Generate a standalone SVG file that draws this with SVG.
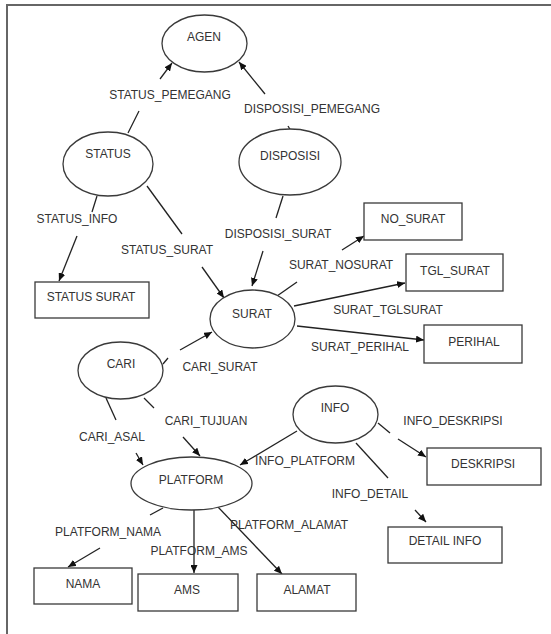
<svg xmlns="http://www.w3.org/2000/svg" width="551" height="634" viewBox="0 0 551 634">
<style>
text{font-family:"Liberation Sans",Arial,sans-serif;font-size:12px;fill:#333;text-anchor:middle}
.node ellipse,.node rect{fill:#fff;stroke:#3a3a3a;stroke-width:1.3}
.conn line{stroke:#222;stroke-width:1.3}
.arr{marker-end:url(#ah)}
.frame{stroke:#666;stroke-width:2;fill:none}
</style>
<defs>
<marker id="ah" markerUnits="userSpaceOnUse" markerWidth="9" markerHeight="7" refX="8" refY="3.5" orient="auto">
<path d="M0,0 L8,3.5 L0,7 z" fill="#111"/>
</marker>
</defs>
<rect width="551" height="634" fill="#fff"/>
<path class="frame" d="M7,634 V5 H551"/>

<g id="connectors" class="conn">
<line x1="128" y1="133" x2="139" y2="111"/>
<line class="arr" x1="160" y1="79" x2="172" y2="63"/>
<line x1="288" y1="126" x2="291" y2="131"/>
<line class="arr" x1="265" y1="94" x2="239" y2="62"/>
<line x1="97" y1="196" x2="92" y2="212"/>
<line class="arr" x1="77" y1="236" x2="59" y2="281"/>
<line x1="147" y1="186" x2="182" y2="234"/>
<line class="arr" x1="202" y1="267" x2="224" y2="298"/>
<line x1="283" y1="196" x2="276" y2="218"/>
<line class="arr" x1="263" y1="251" x2="252" y2="286"/>
<line x1="277" y1="296" x2="297" y2="282"/>
<line class="arr" x1="342" y1="250" x2="364" y2="236"/>
<line class="arr" x1="294" y1="306" x2="405" y2="283"/>
<line class="arr" x1="297" y1="326" x2="424" y2="340"/>
<line x1="163" y1="364" x2="168" y2="358"/>
<line class="arr" x1="180" y1="350" x2="212" y2="332"/>
<line x1="144" y1="398" x2="154" y2="408"/>
<line class="arr" x1="183" y1="437" x2="200" y2="456"/>
<line x1="106" y1="398" x2="116" y2="420"/>
<line class="arr" x1="136" y1="453" x2="143" y2="465"/>
<line class="arr" x1="297" y1="431" x2="240" y2="465"/>
<line x1="378" y1="423" x2="390" y2="433"/>
<line class="arr" x1="398" y1="439" x2="426" y2="457"/>
<line x1="356" y1="443" x2="388" y2="478"/>
<line class="arr" x1="415" y1="510" x2="426" y2="522"/>
<line x1="163" y1="508" x2="150" y2="515"/>
<line class="arr" x1="100" y1="548" x2="68" y2="567"/>
<line class="arr" x1="194" y1="510" x2="194" y2="573"/>
<line class="arr" x1="218" y1="507" x2="282" y2="574"/>
</g>

<g id="labels">
<text x="170" y="99">STATUS_PEMEGANG</text>
<text x="312" y="113">DISPOSISI_PEMEGANG</text>
<text x="77" y="223">STATUS_INFO</text>
<text x="167" y="254">STATUS_SURAT</text>
<text x="278" y="238">DISPOSISI_SURAT</text>
<text x="341" y="269">SURAT_NOSURAT</text>
<text x="388" y="314">SURAT_TGLSURAT</text>
<text x="360" y="351">SURAT_PERIHAL</text>
<text x="220" y="371">CARI_SURAT</text>
<text x="206" y="425">CARI_TUJUAN</text>
<text x="112" y="441">CARI_ASAL</text>
<text x="453" y="425">INFO_DESKRIPSI</text>
<text x="305" y="465">INFO_PLATFORM</text>
<text x="370" y="498">INFO_DETAIL</text>
<text x="108" y="536">PLATFORM_NAMA</text>
<text x="199" y="555">PLATFORM_AMS</text>
<text x="289" y="529">PLATFORM_ALAMAT</text>
</g>

<g id="agen" class="node"><ellipse cx="204.5" cy="43.5" rx="42.5" ry="28.5"/><text x="204" y="41">AGEN</text></g>
<g id="status" class="node"><ellipse cx="108" cy="164" rx="45" ry="32"/><text x="108" y="158">STATUS</text></g>
<g id="disposisi" class="node"><ellipse cx="290" cy="162" rx="51" ry="33"/><text x="290" y="160">DISPOSISI</text></g>
<g id="surat" class="node"><ellipse cx="252.5" cy="319" rx="42.5" ry="29"/><text x="252" y="318">SURAT</text></g>
<g id="cari" class="node"><ellipse cx="120.5" cy="370.5" rx="42.5" ry="28.5"/><text x="121" y="368">CARI</text></g>
<g id="info" class="node"><ellipse cx="335.5" cy="414.5" rx="42.5" ry="28.5"/><text x="335" y="412">INFO</text></g>
<g id="platform" class="node"><ellipse cx="191.5" cy="483.5" rx="60.5" ry="26.5"/><text x="191" y="484">PLATFORM</text></g>
<g id="status_surat" class="node"><rect x="35" y="282" width="114" height="36"/><text x="91" y="301">STATUS SURAT</text></g>
<g id="no_surat" class="node"><rect x="364" y="203" width="98" height="37"/><text x="413" y="223">NO_SURAT</text></g>
<g id="tgl_surat" class="node"><rect x="406" y="254" width="97" height="37"/><text x="455" y="275">TGL_SURAT</text></g>
<g id="perihal" class="node"><rect x="424" y="325" width="98" height="38"/><text x="474" y="346">PERIHAL</text></g>
<g id="deskripsi" class="node"><rect x="427" y="448" width="114" height="37"/><text x="483" y="468">DESKRIPSI</text></g>
<g id="detail_info" class="node"><rect x="388" y="527" width="114" height="36"/><text x="445" y="545">DETAIL INFO</text></g>
<g id="nama" class="node"><rect x="34" y="568" width="98" height="36"/><text x="83" y="588">NAMA</text></g>
<g id="ams" class="node"><rect x="138" y="574" width="100" height="37"/><text x="187" y="594">AMS</text></g>
<g id="alamat" class="node"><rect x="257" y="574" width="99" height="37"/><text x="307" y="594">ALAMAT</text></g>
</svg>
